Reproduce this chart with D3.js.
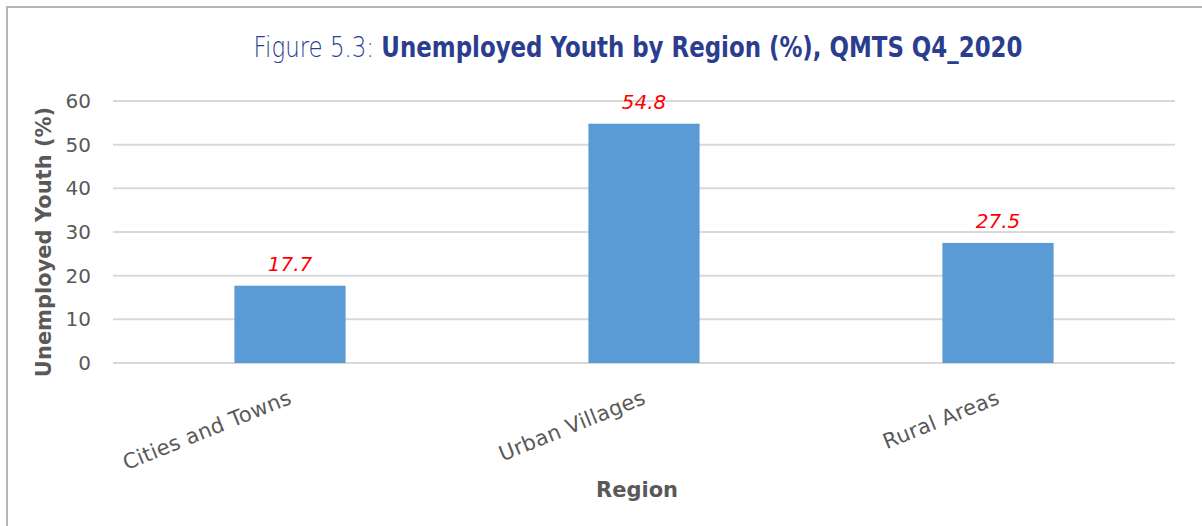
<!DOCTYPE html>
<html>
<head>
<meta charset="utf-8">
<script src="https://cdn.jsdelivr.net/npm/d3@7"></script>
<style>
  html, body { margin: 0; padding: 0; background: #fff; }
  svg { display: block; }
</style>
</head>
<body>
<svg id="chart" width="1202" height="526"></svg>
<script>
const categories = ["Cities and Towns", "Urban Villages", "Rural Areas"];
const values = [17.7, 54.8, 27.5];
const yTicks = [0, 10, 20, 30, 40, 50, 60];
const titleLight = "Figure 5.3: ";
const titleBold = "Unemployed Youth by Region (%), QMTS Q4_2020";
const yTitle = "Unemployed Youth (%)";
const xTitle = "Region";

const svg = d3.select("#chart");
const margin = { left: 113, right: 1175, top: 101, bottom: 363 };
const axisFont = "'DejaVu Sans', 'Noto Sans', sans-serif";
const grey = "#595959";

// frame
svg.append("line").attr("x1", 7).attr("x2", 1202).attr("y1", 7).attr("y2", 7)
  .attr("stroke", "#b4b4b4").attr("stroke-width", 2);
svg.append("line").attr("x1", 7).attr("x2", 7).attr("y1", 6).attr("y2", 526)
  .attr("stroke", "#b4b4b4").attr("stroke-width", 2);

const x = d3.scaleBand().domain(categories).range([margin.left, margin.right]).paddingInner(0.686).paddingOuter(0.343);
const y = d3.scaleLinear().domain([0, 60]).range([margin.bottom, margin.top]);

// grid
svg.append("g").selectAll("line").data(yTicks).join("line")
  .attr("x1", margin.left).attr("x2", margin.right)
  .attr("y1", d => y(d)).attr("y2", d => y(d))
  .attr("stroke", "#d9d9d9").attr("stroke-width", 2);

// y axis labels
const yAxis = svg.append("g").attr("transform", `translate(${margin.left},0)`)
  .call(d3.axisLeft(y).tickValues(yTicks).tickSize(0).tickPadding(22).tickFormat(d3.format("d")));
yAxis.select(".domain").remove();
yAxis.selectAll("text").attr("font-family", axisFont).attr("font-size", 20)
  .attr("fill", grey);

// bars
svg.append("g").selectAll("rect").data(values).join("rect")
  .attr("x", (d, i) => x(categories[i]))
  .attr("width", x.bandwidth())
  .attr("y", d => y(d))
  .attr("height", d => y(0) - y(d))
  .attr("fill", "#5b9bd5");

// data labels
svg.append("g").selectAll("text").data(values).join("text")
  .attr("x", (d, i) => x(categories[i]) + x.bandwidth() / 2)
  .attr("y", d => y(d) - 15)
  .attr("text-anchor", "middle")
  .attr("font-family", axisFont).attr("font-style", "italic")
  .attr("font-size", 20).attr("fill", "#ff0000")
  .text(d => d3.format(".1f")(d));

// x axis labels
const xAxis = svg.append("g").attr("transform", `translate(0,${margin.bottom})`)
  .call(d3.axisBottom(x).tickSize(0).tickPadding(0));
xAxis.select(".domain").remove();
xAxis.selectAll("text")
  .attr("font-family", axisFont).attr("font-size", 21)
  .attr("letter-spacing", 0.3)
  .attr("fill", grey)
  .attr("text-anchor", "end")
  .attr("dy", 0)
  .attr("transform", "translate(3,40) rotate(-22)");

// axis titles
svg.append("text")
  .attr("transform", `translate(51,242) rotate(-90)`)
  .attr("text-anchor", "middle")
  .attr("font-family", axisFont).attr("font-weight", "bold")
  .attr("font-size", 21).attr("fill", grey)
  .text(yTitle);

svg.append("text")
  .attr("x", 637).attr("y", 497)
  .attr("text-anchor", "middle")
  .attr("font-family", axisFont).attr("font-weight", "bold")
  .attr("font-size", 21).attr("fill", grey)
  .text(xTitle);

// title (horizontally condensed)
const title = svg.append("text")
  .attr("transform", "translate(638,57) scale(0.79,1)")
  .attr("text-anchor", "middle")
  .attr("font-family", "'DejaVu Sans', sans-serif")
  .attr("font-size", 29).attr("fill", "#2b3d8f");
title.append("tspan").attr("font-weight", 300).text(titleLight);
title.append("tspan").attr("font-weight", "bold").text(titleBold);
</script>
</body>
</html>
